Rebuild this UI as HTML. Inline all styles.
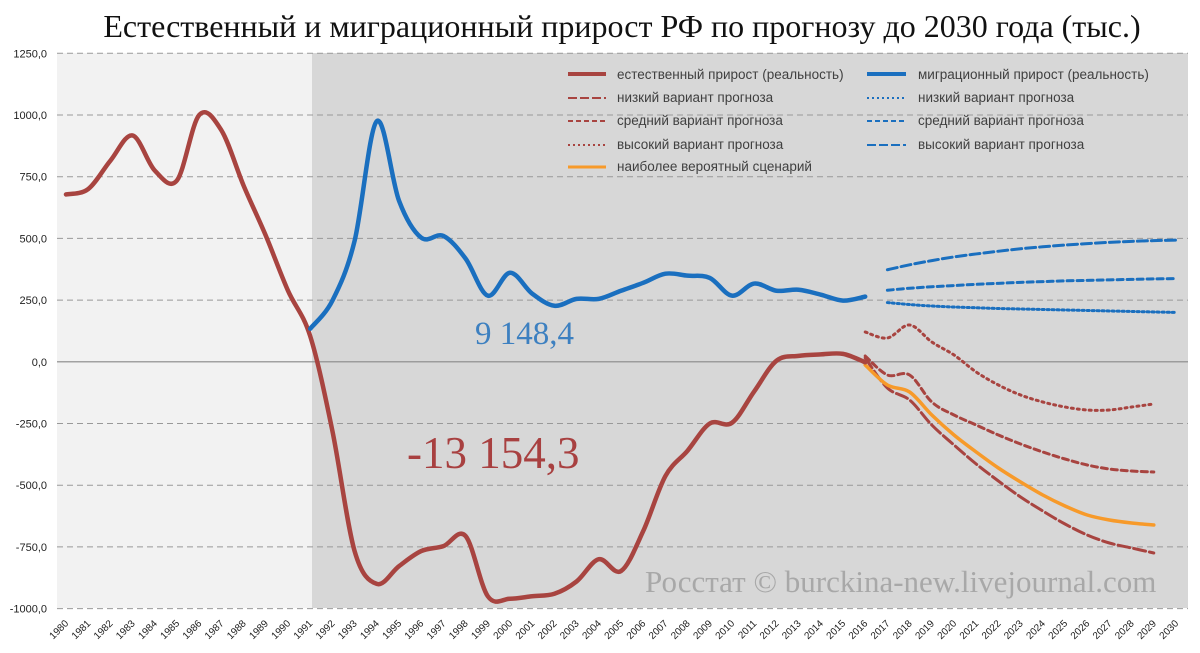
<!DOCTYPE html>
<html><head><meta charset="utf-8"><style>
body{margin:0;background:#fff;width:1200px;height:653px;overflow:hidden}
svg{display:block}
text{font-family:"Liberation Sans",sans-serif}
</style></head><body>
<svg id="s" width="1200" height="653" xmlns="http://www.w3.org/2000/svg">
<text x="622" y="37" text-anchor="middle" font-size="32" fill="#111" style="font-family:'Liberation Serif',serif">Естественный и миграционный прирост РФ по прогнозу до 2030 года (тыс.)</text>
<rect x="57" y="53" width="255" height="555" fill="#f2f2f2"/>
<rect x="312" y="53" width="876" height="555" fill="#d7d7d7"/>
<g id="grid" stroke="#999" stroke-dasharray="6,4" stroke-width="1"></g>
<line x1="57" y1="361.8" x2="1188" y2="361.8" stroke="#888" stroke-width="1.2"/>
<g id="yl" font-size="11" fill="#222" text-anchor="end"></g>
<g id="xl" font-size="10" fill="#222"></g>
<text x="645" y="592" font-size="31" fill="#a8a8a8" style="font-family:'Liberation Serif',serif">Росстат © burckina-new.livejournal.com</text>
<text x="475" y="344" font-size="33" fill="#3d80c0" style="font-family:'Liberation Serif',serif">9 148,4</text>
<text x="407" y="468" font-size="45" fill="#a84040" style="font-family:'Liberation Serif',serif">-13 154,3</text>
<g id="series" fill="none" stroke-linecap="round"></g>
<g font-size="13.5" fill="#404040">
<line x1="568" y1="74" x2="606" y2="74" stroke="#a84440" stroke-width="4"/><text x="617" y="79">естественный прирост (реальность)</text>
<line x1="568" y1="98" x2="606" y2="98" stroke="#a84440" stroke-width="2" stroke-dasharray="9,3"/><text x="617" y="102">низкий вариант прогноза</text>
<line x1="568" y1="121" x2="606" y2="121" stroke="#a84440" stroke-width="2" stroke-dasharray="5,3"/><text x="617" y="125">средний вариант прогноза</text>
<line x1="568" y1="145" x2="606" y2="145" stroke="#a84440" stroke-width="2" stroke-dasharray="2,3"/><text x="617" y="149">высокий вариант прогноза</text>
<line x1="568" y1="167" x2="606" y2="167" stroke="#f79a2a" stroke-width="3"/><text x="617" y="171">наиболее вероятный сценарий</text>
<line x1="867" y1="74" x2="906" y2="74" stroke="#1a6fbf" stroke-width="4"/><text x="918" y="79">миграционный прирост (реальность)</text>
<line x1="867" y1="98" x2="906" y2="98" stroke="#1a6fbf" stroke-width="2" stroke-dasharray="2,3"/><text x="918" y="102">низкий вариант прогноза</text>
<line x1="867" y1="121" x2="906" y2="121" stroke="#1a6fbf" stroke-width="2" stroke-dasharray="5,3"/><text x="918" y="125">средний вариант прогноза</text>
<line x1="867" y1="145" x2="906" y2="145" stroke="#1a6fbf" stroke-width="2" stroke-dasharray="9,3"/><text x="918" y="149">высокий вариант прогноза</text>
</g>
</svg>
<script>
var NS="http://www.w3.org/2000/svg";
function el(p,t,a,txt){var e=document.createElementNS(NS,t);for(var k in a)e.setAttribute(k,a[k]);if(txt)e.textContent=txt;document.getElementById(p).appendChild(e);return e;}
function X(yr){return 66+(yr-1980)*22.2;}
function Y(v){return 361.8-v*0.2468;}
for(var v=-1000;v<=1250;v+=250){ if(v!=0) el("grid","line",{x1:57,x2:1188,y1:Y(v),y2:Y(v)});
 el("yl","text",{x:47,y:Y(v)+4},v+",0");}
for(var yr=1980;yr<=2030;yr++){var x=X(yr)+3,y=624;el("xl","text",{x:x,y:y,"text-anchor":"end",transform:"rotate(-45 "+x+" "+y+")"},yr);}
function path(pts,stroke,w,dash){var d="M"+pts[0][0]+","+pts[0][1];
 for(var i=0;i<pts.length-1;i++){var p0=pts[i-1]||pts[i],p1=pts[i],p2=pts[i+1],p3=pts[i+2]||p2;
  d+=" C"+(p1[0]+(p2[0]-p0[0])/6)+","+(p1[1]+(p2[1]-p0[1])/6)+" "+(p2[0]-(p3[0]-p1[0])/6)+","+(p2[1]-(p3[1]-p1[1])/6)+" "+p2[0]+","+p2[1];}
 var a={d:d,stroke:stroke,"stroke-width":w};if(dash)a["stroke-dasharray"]=dash;el("series","path",a);}
function ser(y0,vals){return vals.map(function(v,i){return [X(y0+i),Y(v)];});}
function ys(y0,yy){return yy.map(function(v,i){return [X(y0+i),v];});}
var red=[678,700,815,917,775,735,1000,938,714,511,288,104,-280,-767,-900,-828,-767,-747,-706,-950,-960,-950,-940,-890,-800,-848,-686,-463,-360,-250,-247,-120,4,24,30,32,-2];
var blue=[134,248,490,975,653,503,510,418,268,361,276,227,255,255,288,320,357,349,340,268,317,288,292,272,248,264];
path(ser(2017,[373,393,410,425,437,448,458,466,473,479,484,488,491,493]),"#1a6fbf",3,"10,4");
path(ser(2017,[290,298,304,309,314,318,322,325,328,330,332,334,336,337]),"#1a6fbf",3,"6,4");
path(ser(2017,[240,232,226,222,219,216,214,212,210,208,206,204,202,200]),"#1a6fbf",3,"2,3");
path(ys(2016,[332,338,325,342,355,372,385,395,402,407,410,410,407,404]),"#a84440",3,"2,4");
path(ys(2016,[356,375,375,402,415,425,435,444,452,459,465,469,471,472]),"#a84440",3,"6,4");
path(ys(2016,[358,388,400,425,445,464,481,497,511,524,535,543,548,553]),"#a84440",3,"12,4");
path(ys(2016,[365,385,392,415,435,452,468,482,495,506,515,520,523,525]),"#f79a2a",3.5);
path(ser(1980,red),"#a84440",4.5);
path(ser(1991,blue),"#1a6fbf",4.5);
</script>
</body></html>
